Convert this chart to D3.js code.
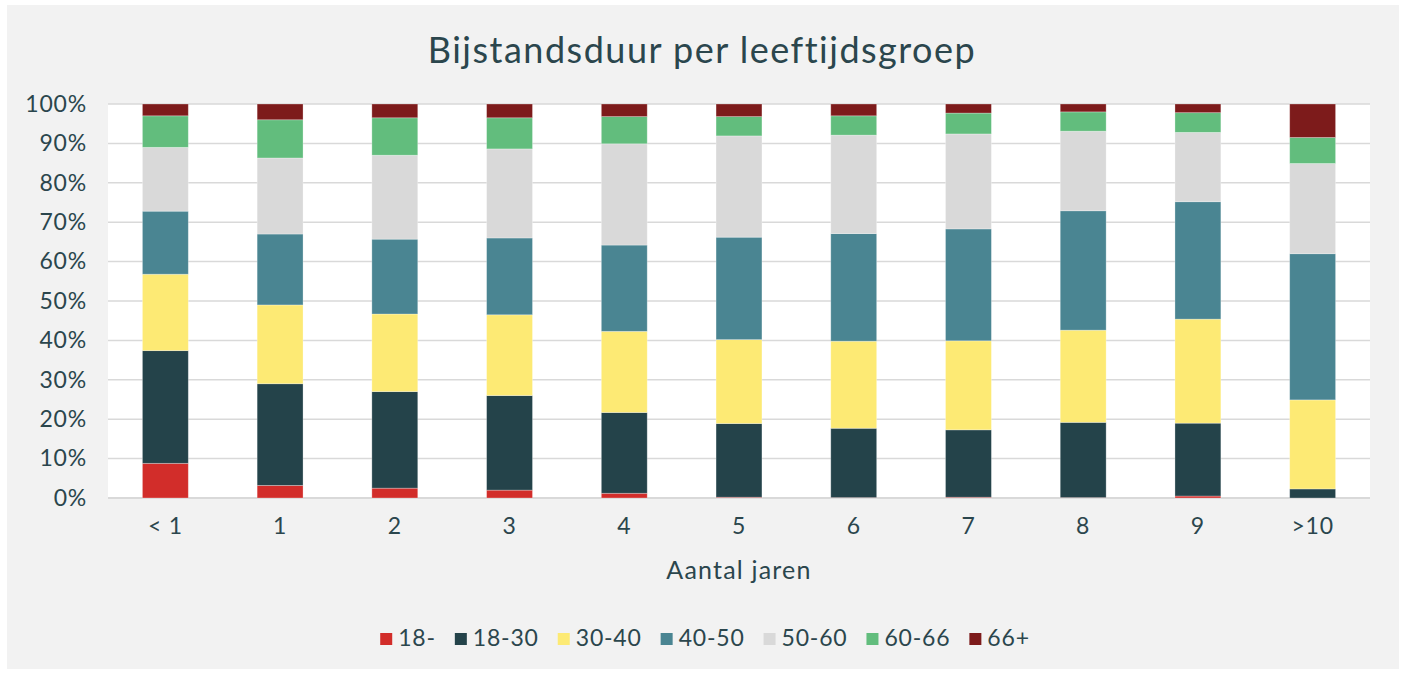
<!DOCTYPE html>
<html>
<head>
<meta charset="utf-8">
<script src="https://cdn.jsdelivr.net/npm/d3@7.9.0/dist/d3.min.js"></script>
<style>
  html, body { margin: 0; padding: 0; background: #fff; }
  svg { display: block; font-family: Lato, "Noto Sans", sans-serif; }
</style>
</head>
<body>
<svg id="chart" width="1402" height="673"></svg>
<script>
// categories (x-axis) and age-group series, values in percent
const categories = ['< 1', '1', '2', '3', '4', '5', '6', '7', '8', '9', '>10'];
const groups = ['18-', '18-30', '30-40', '40-50', '50-60', '60-66', '66+'];
const colors = ['#d22d2a', '#24434a', '#fdea74', '#4a8592', '#d9d9d9', '#62bd7d', '#7d1b1b'];

const s18 =   [8.8, 3.2, 2.5, 2.0, 1.2, 0.2, 0.1, 0.2, 0.1, 0.5, 0.0];
const s1830 = [28.6, 25.8, 24.5, 24.0, 20.5, 18.7, 17.6, 17.1, 19.1, 18.5, 2.3];
const s3040 = [19.4, 20.0, 19.7, 20.5, 20.6, 21.3, 22.1, 22.6, 23.4, 26.4, 22.6];
const s4050 = [16.0, 18.0, 19.0, 19.5, 21.9, 26.0, 27.3, 28.4, 30.3, 29.8, 37.1];
const s5060 = [16.2, 19.3, 21.3, 22.6, 25.7, 25.7, 25.0, 24.1, 20.2, 17.6, 22.9];
const s6066 = [8.0, 9.7, 9.5, 7.9, 6.9, 4.9, 4.9, 5.3, 4.9, 5.0, 6.6];
const s66 =   [3.0, 4.0, 3.5, 3.5, 3.2, 3.2, 3.0, 2.3, 2.0, 2.2, 8.5];
const series = [s18, s1830, s3040, s4050, s5060, s6066, s66];

const yTicks = [0, 10, 20, 30, 40, 50, 60, 70, 80, 90, 100];

const textColor = '#2b464d';
const svg = d3.select('#chart');

// grey panel
svg.append('rect')
  .attr('x', 7).attr('y', 5)
  .attr('width', 1392).attr('height', 664)
  .attr('fill', '#f2f2f2');

const margin = { left: 108, right: 1370, top: 104, bottom: 498 };

const table = categories.map((c, i) => {
  const row = { cat: c };
  groups.forEach((g, k) => { row[g] = series[k][i]; });
  return row;
});
const stacked = d3.stack().keys(groups)(table);

const x = d3.scaleBand()
  .domain(categories)
  .range([margin.left, margin.right])
  .paddingInner(0.6)
  .paddingOuter(0.3);

const y = d3.scaleLinear()
  .domain([0, 100])
  .range([margin.bottom, margin.top]);

// plot background
svg.append('rect')
  .attr('x', margin.left).attr('y', margin.top)
  .attr('width', margin.right - margin.left)
  .attr('height', margin.bottom - margin.top)
  .attr('fill', '#fff');

// gridlines
svg.append('g')
  .selectAll('line')
  .data(yTicks)
  .join('line')
  .attr('x1', margin.left).attr('x2', margin.right)
  .attr('y1', d => y(d)).attr('y2', d => y(d))
  .attr('stroke', '#d9d9d9')
  .attr('stroke-width', d => d === 0 ? 2 : 1.5);

// bars
svg.append('g')
  .selectAll('g')
  .data(stacked)
  .join('g')
  .attr('fill', (d, i) => colors[i])
  .selectAll('rect')
  .data(d => d)
  .join('rect')
  .attr('x', d => x(d.data.cat))
  .attr('width', x.bandwidth())
  .attr('y', d => y(d[1]))
  .attr('height', d => Math.max(0, y(d[0]) - y(d[1])))
  .attr('stroke', 'rgba(255,255,255,0.35)')
  .attr('stroke-width', 0.8);

// y axis labels
const yAxis = d3.axisLeft(y)
  .tickValues(yTicks)
  .tickFormat(d => d + '%')
  .tickSize(0)
  .tickPadding(21);
svg.append('g')
  .attr('transform', `translate(${margin.left},0)`)
  .call(yAxis)
  .call(g => g.select('.domain').remove())
  .selectAll('text')
  .attr('fill', textColor)
  .style('font-size', '23px')
  .style('letter-spacing', '0.8px')
  .style('font-family', 'Lato, "Noto Sans", sans-serif');

// x axis labels
const xAxis = d3.axisBottom(x).tickSize(0).tickPadding(20);
svg.append('g')
  .attr('transform', `translate(0,${margin.bottom})`)
  .call(xAxis)
  .call(g => g.select('.domain').remove())
  .selectAll('text')
  .attr('fill', textColor)
  .style('font-size', '23px')
  .style('letter-spacing', '0.8px')
  .style('font-family', 'Lato, "Noto Sans", sans-serif');

// title
svg.append('text')
  .attr('x', 702).attr('y', 63)
  .attr('text-anchor', 'middle')
  .attr('fill', textColor)
  .style('font-size', '36px')
  .style('letter-spacing', '1.5px')
  .text('Bijstandsduur per leeftijdsgroep');

// axis title
svg.append('text')
  .attr('x', (margin.left + margin.right) / 2).attr('y', 579)
  .attr('text-anchor', 'middle')
  .attr('fill', textColor)
  .style('font-size', '25px')
  .style('letter-spacing', '1.2px')
  .text('Aantal jaren');

// legend
const legend = svg.append('g');
const gap = 19;
let lx = 0;
groups.forEach((g, i) => {
  const item = legend.append('g').attr('transform', `translate(${lx},0)`);
  item.append('rect')
    .attr('x', 0).attr('y', -13)
    .attr('width', 12).attr('height', 12)
    .attr('fill', colors[i]);
  const t = item.append('text')
    .attr('x', 18).attr('y', 0)
    .attr('fill', textColor)
    .style('font-size', '23px')
    .style('letter-spacing', '0.8px')
    .text(g);
  lx += 18 + t.node().getComputedTextLength() + gap;
});
lx -= gap;
legend.attr('transform', `translate(${705 - lx / 2},646)`);
</script>
</body>
</html>
